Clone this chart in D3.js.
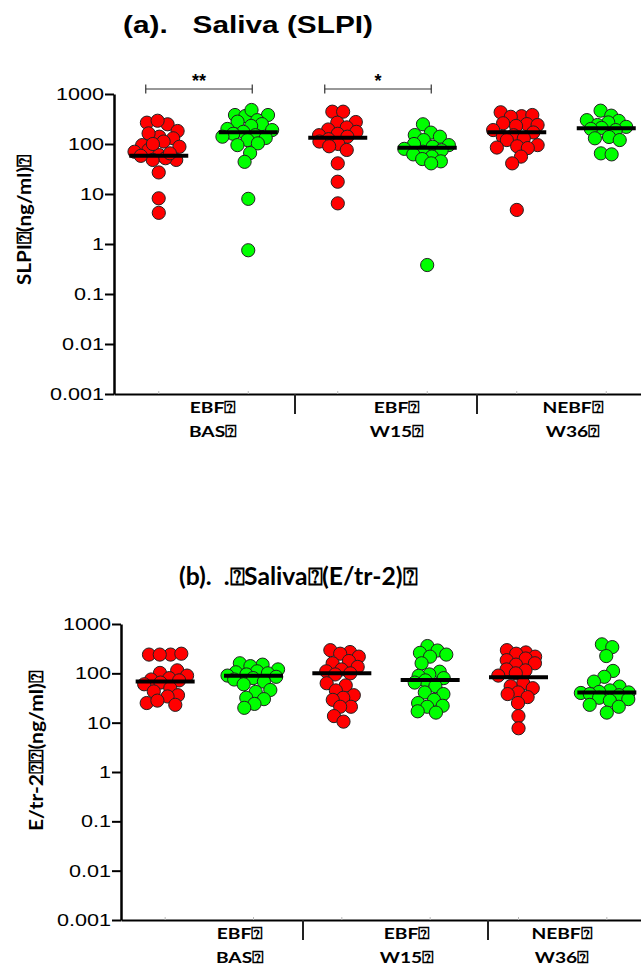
<!DOCTYPE html>
<html>
<head>
<meta charset="utf-8">
<script src="https://cdn.jsdelivr.net/npm/d3@7"></script>
<style>
  body { margin: 0; background: #fff; }
  svg { display: block; }
</style>
</head>
<body>
<svg id="chart" width="641" height="968"></svg>
<script>
const Q = "\u2370";

// x categories (two lines per group)
const groupTop = ["EBF" + Q, "EBF" + Q, "NEBF" + Q];
const groupBottom = ["BAS" + Q, "W15" + Q, "W36" + Q];
const yTicks = [0.001, 0.01, 0.1, 1, 10, 100, 1000];
const dotColors = ["#ff0000", "#00ff00", "#ff0000", "#00ff00", "#ff0000", "#00ff00"];

// (a) Saliva SLPI, ng/ml
const slpiBasRed = [267, 248, 292, 182, 140, 163, 130, 112, 95, 88, 76, 70, 60, 48, 48, 52, 58, 65, 27, 8.2, 4.2, 100];
const slpiBasGreen = [380, 380, 363, 479, 300, 280, 250, 230, 200, 190, 175, 160, 150, 140, 132, 120, 95, 103, 66, 44, 8, 0.75];
const slpiW15Red = [443, 443, 267, 275, 215, 195, 175, 160, 150, 140, 125, 112, 100, 90, 76, 41, 17.6, 6.5];
const slpiW15Green = [248, 169, 151, 140, 120, 100, 95, 88, 80, 75, 70, 62, 56, 50, 45, 41, 0.38];
const slpiW36Red = [431, 360, 350, 380, 250, 260, 240, 230, 190, 170, 150, 140, 130, 120, 95, 90, 85, 83, 56, 41, 4.8];
const slpiW36Green = [464, 369, 300, 290, 270, 240, 220, 210, 200, 190, 138, 130, 120, 65, 62];
const slpiCentres = [58, 171, 134, 84, 171, 206];

// (b) Saliva E/tr-2, ng/ml
const etrBasRed = [240, 240, 240, 250, 115, 102, 90, 80, 75, 72, 65, 60, 50, 43, 36, 34, 25, 23, 28];
const etrBasGreen = [160, 150, 140, 120, 110, 105, 100, 95, 90, 85, 80, 75, 68, 60, 46, 42, 32, 30, 24, 20];
const etrW15Red = [295, 270, 250, 218, 178, 160, 135, 120, 110, 100, 95, 63, 57, 45, 36, 32, 29, 21, 21, 13.6, 10.5];
const etrW15Green = [357, 290, 260, 240, 218, 160, 108, 95, 89, 80, 72, 65, 55, 41, 38, 29, 25, 22, 21, 17, 16];
const etrW36Red = [295, 265, 250, 218, 200, 185, 160, 150, 120, 115, 100, 90, 63, 55, 50, 41, 38, 33, 25, 13.6, 7.7];
const etrW36Green = [387, 340, 224, 112, 85, 68, 54, 45, 42, 41, 40, 38, 36, 32, 30, 28, 23, 21, 16];
const etrCentres = [68, 89, 100, 73, 83, 41];

const svg = d3.select("#chart");
const stretch = 1.27;   // the original lettering is wider than normal

function drawPanel(p) {
  const y = d3.scaleLog().domain([0.001, 1000]).range([p.bottom, p.top]);
  const x = d3.scaleBand().domain(d3.range(6)).range([p.axisX, 651]);
  const G = svg.append("g");

  // title
  G.append("text")
   .attr("x", p.titleX).attr("y", p.titleY)
   .attr("textLength", p.titleW).attr("lengthAdjust", "spacingAndGlyphs")
   .style("white-space", "pre")
   .style("font-family", p.titleFont).style("font-weight", "bold")
   .style("font-size", p.titleSize + "px")
   .text(p.title);

  // y axis
  const yAxisCall = d3.axisLeft(y).tickValues(yTicks).tickFormat(d => String(d))
                      .tickSizeInner(9).tickSizeOuter(0);
  const yA = G.append("g")
              .attr("transform", "translate(" + p.axisX + ",0)")
              .call(yAxisCall);
  yA.select(".domain").attr("stroke", "#000").attr("stroke-width", 2.5);
  yA.selectAll(".tick line").attr("stroke", "#000").attr("stroke-width", 2);
  yA.selectAll(".tick text")
    .attr("x", -10 / stretch)
    .attr("transform", "scale(" + stretch + ",1)")
    .style("font-family", "'Liberation Sans', Arial, sans-serif")
    .style("font-size", "17px")
    .attr("fill", "#000");

  // x axis
  const xA = G.append("g")
              .attr("transform", "translate(0," + p.bottom + ")")
              .call(d3.axisBottom(x).tickSizeInner(-3).tickSizeOuter(0).tickFormat(""));
  xA.select(".domain").attr("stroke", "#000").attr("stroke-width", 2);
  xA.selectAll(".tick line").attr("stroke", "#bbb");

  G.selectAll(".sep")
   .data(p.sepX)
   .enter().append("line")
   .attr("x1", d => d).attr("x2", d => d)
   .attr("y1", p.bottom).attr("y2", p.bottom + 20)
   .attr("stroke", "#222").attr("stroke-width", 2);

  [groupTop, groupBottom].forEach((lines, row) => {
    G.selectAll(".glab" + row)
     .data(lines)
     .enter().append("text")
     .attr("text-anchor", "middle")
     .attr("transform", (d, i) => "translate(" + p.labelX[i] + "," + (p.bottom + 19 + row * 24) + ") scale(1.2,1)")
     .style("font-family", "Lato, 'Open Sans', sans-serif")
     .style("font-weight", "bold")
     .style("font-size", "16px")
     .text(d => d);
  });

  // y label
  G.append("text")
   .attr("transform", "translate(" + p.ylabX + "," + p.ylabY + ") rotate(-90)")
   .attr("text-anchor", "middle")
   .attr("dominant-baseline", "central")
   .attr("textLength", p.ylabW).attr("lengthAdjust", "spacingAndGlyphs")
   .style("font-family", "Lato, 'Open Sans', sans-serif")
   .style("font-weight", "bold")
   .style("font-size", "19px")
   .text(p.ylabel);

  // dots, spread sideways so they do not pile up
  p.series.forEach((vals, i) => {
    const cx = x(i) + x.bandwidth() / 2;
    const nodes = vals.map((v, k) => ({ v: v, x: cx + ((k * 7) % 11) - 5, y: y(v) }));
    const sim = d3.forceSimulation(nodes)
                  .force("x", d3.forceX(cx).strength(0.06))
                  .force("y", d3.forceY(d => y(d.v)).strength(0.9))
                  .force("collide", d3.forceCollide(5.4))
                  .stop();
    for (let t = 0; t < 300; t++) sim.tick();

    G.append("g").selectAll("circle")
     .data(nodes)
     .enter().append("circle")
     .attr("cx", d => Math.max(cx - 26, Math.min(cx + 26, d.x)))
     .attr("cy", d => y(d.v))
     .attr("r", 6.6)
     .attr("fill", dotColors[i])
     .attr("stroke", "#222")
     .attr("stroke-width", 1);
  });

  // centre lines
  G.selectAll(".centre")
   .data(p.centres)
   .enter().append("line")
   .attr("x1", (d, i) => x(i) + x.bandwidth() / 2 - 29.5)
   .attr("x2", (d, i) => x(i) + x.bandwidth() / 2 + 29.5)
   .attr("y1", d => y(d)).attr("y2", d => y(d))
   .attr("stroke", "#000").attr("stroke-width", 4);

  // significance brackets
  (p.brackets || []).forEach(b => {
    const x1 = x(b.from) + x.bandwidth() / 2 - 13;
    const x2 = x(b.to) + x.bandwidth() / 2 + 4;
    const yb = p.top - 5;
    const br = G.append("g").attr("stroke", "#333").attr("stroke-width", 1.2);
    br.append("line").attr("x1", x1).attr("x2", x2).attr("y1", yb).attr("y2", yb);
    br.append("line").attr("x1", x1).attr("x2", x1).attr("y1", yb - 4.5).attr("y2", yb + 4.5);
    br.append("line").attr("x1", x2).attr("x2", x2).attr("y1", yb - 4.5).attr("y2", yb + 4.5);
    G.append("text")
     .attr("x", (x1 + x2) / 2).attr("y", yb - 2)
     .attr("text-anchor", "middle")
     .style("font-family", "'Liberation Sans', Arial, sans-serif")
     .style("font-weight", "bold")
     .style("font-size", "18px")
     .text(b.label);
  });
}

drawPanel({
  top: 94, bottom: 394, axisX: 114,
  title: "(a).   Saliva (SLPI)", titleX: 123, titleY: 33, titleW: 250,
  titleFont: "'Liberation Sans', Arial, sans-serif", titleSize: 23,
  ylabel: "SLPI" + Q + "(ng/ml)" + Q, ylabX: 23, ylabY: 220, ylabW: 130,
  sepX: [295, 477], labelX: [213, 397, 573],
  series: [slpiBasRed, slpiBasGreen, slpiW15Red, slpiW15Green, slpiW36Red, slpiW36Green],
  centres: slpiCentres,
  brackets: [{ from: 0, to: 1, label: "**" }, { from: 2, to: 3, label: "*" }]
});

drawPanel({
  top: 624, bottom: 920, axisX: 121,
  title: "(b).  ." + Q + "Saliva" + Q + "(E/tr-2)" + Q, titleX: 179, titleY: 585, titleW: 238,
  titleFont: "Lato, 'Open Sans', sans-serif", titleSize: 24,
  ylabel: "E/tr-2" + Q + Q + "(ng/ml)" + Q, ylabX: 35, ylabY: 751, ylabW: 160,
  sepX: [303, 488], labelX: [240, 407, 562],
  series: [etrBasRed, etrBasGreen, etrW15Red, etrW15Green, etrW36Red, etrW36Green],
  centres: etrCentres
});
</script>
</body>
</html>
